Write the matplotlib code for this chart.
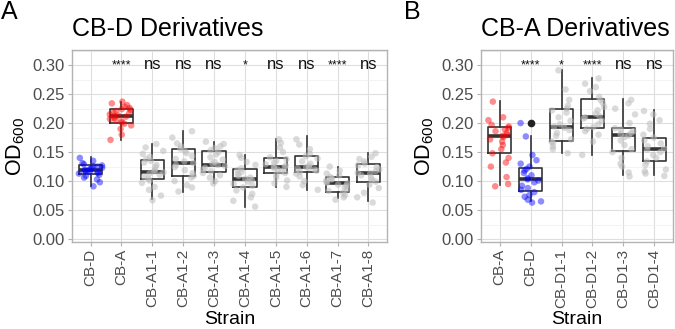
import numpy as np
import matplotlib.pyplot as plt

plt.rcParams['font.family'] = ['Liberation Sans', 'DejaVu Sans']
plt.rcParams['mathtext.default'] = 'regular'

# Panel A: CB-D derivatives
strains_a = ['CB-D', 'CB-A', 'CB-A1-1', 'CB-A1-2', 'CB-A1-3',
             'CB-A1-4', 'CB-A1-5', 'CB-A1-6', 'CB-A1-7', 'CB-A1-8']
od_a = [
    [0.091, 0.098, 0.103, 0.106, 0.109, 0.111, 0.113, 0.114, 0.115, 0.116, 0.117, 0.118,
     0.119, 0.120, 0.121, 0.122, 0.123, 0.125, 0.126, 0.127, 0.129, 0.131, 0.135, 0.140],
    [0.171, 0.180, 0.190, 0.196, 0.199, 0.201, 0.203, 0.205, 0.207, 0.209, 0.211, 0.212,
     0.213, 0.215, 0.217, 0.219, 0.221, 0.223, 0.224, 0.226, 0.228, 0.231, 0.234, 0.237],
    [0.067, 0.075, 0.085, 0.090, 0.097, 0.101, 0.104, 0.108, 0.111, 0.113, 0.115, 0.117,
     0.119, 0.124, 0.128, 0.132, 0.135, 0.138, 0.142, 0.147, 0.152, 0.158, 0.164],
    [0.082, 0.089, 0.093, 0.100, 0.106, 0.109, 0.114, 0.119, 0.124, 0.128, 0.131, 0.134,
     0.138, 0.143, 0.148, 0.152, 0.156, 0.160, 0.165, 0.175, 0.186],
    [0.096, 0.100, 0.106, 0.110, 0.114, 0.117, 0.120, 0.123, 0.126, 0.128, 0.130, 0.133,
     0.137, 0.141, 0.146, 0.150, 0.153, 0.157, 0.160, 0.164, 0.168],
    [0.056, 0.066, 0.072, 0.078, 0.084, 0.089, 0.092, 0.095, 0.099, 0.102, 0.104, 0.106,
     0.109, 0.112, 0.116, 0.119, 0.122, 0.128, 0.133, 0.140, 0.145],
    [0.090, 0.096, 0.101, 0.106, 0.111, 0.114, 0.117, 0.120, 0.122, 0.124, 0.125, 0.127,
     0.129, 0.132, 0.135, 0.138, 0.141, 0.150, 0.158, 0.166, 0.172],
    [0.085, 0.093, 0.100, 0.108, 0.113, 0.116, 0.118, 0.120, 0.122, 0.123, 0.124, 0.126,
     0.130, 0.134, 0.139, 0.143, 0.147, 0.155, 0.163, 0.172],
    [0.068, 0.072, 0.076, 0.080, 0.083, 0.086, 0.089, 0.092, 0.094, 0.096, 0.097, 0.099,
     0.101, 0.103, 0.105, 0.107, 0.110, 0.113, 0.118, 0.125],
    [0.063, 0.072, 0.080, 0.088, 0.094, 0.099, 0.102, 0.106, 0.110, 0.113, 0.114, 0.117,
     0.120, 0.124, 0.127, 0.130, 0.134, 0.138, 0.142, 0.148],
]
# box stats: lower whisker, q1, median, q3, upper whisker
lo_a = [0.092, 0.171, 0.069, 0.082, 0.096, 0.056, 0.090, 0.085, 0.070, 0.066]
q1_a = [0.112, 0.200, 0.103, 0.108, 0.116, 0.090, 0.114, 0.116, 0.082, 0.099]
med_a = [0.119, 0.212, 0.116, 0.131, 0.128, 0.104, 0.125, 0.124, 0.097, 0.114]
q3_a = [0.128, 0.225, 0.136, 0.155, 0.152, 0.120, 0.139, 0.143, 0.107, 0.130]
hi_a = [0.142, 0.237, 0.164, 0.186, 0.168, 0.145, 0.172, 0.177, 0.125, 0.148]
sig_a = ['', '****', 'ns', 'ns', 'ns', '*', 'ns', 'ns', '****', 'ns']

# Panel B: CB-A derivatives
strains_b = ['CB-A', 'CB-D', 'CB-D1-1', 'CB-D1-2', 'CB-D1-3', 'CB-D1-4']
od_b = [
    [0.091, 0.095, 0.107, 0.125, 0.132, 0.140, 0.148, 0.155, 0.162, 0.168, 0.172, 0.176,
     0.178, 0.180, 0.183, 0.186, 0.189, 0.192, 0.194, 0.197, 0.205, 0.210, 0.237],
    [0.063, 0.065, 0.068, 0.073, 0.076, 0.081, 0.085, 0.088, 0.092, 0.098, 0.101, 0.103,
     0.105, 0.110, 0.114, 0.118, 0.121, 0.125, 0.130, 0.136, 0.145, 0.177, 0.200],
    [0.148, 0.155, 0.160, 0.166, 0.168, 0.172, 0.178, 0.183, 0.188, 0.192, 0.194, 0.198,
     0.204, 0.210, 0.218, 0.222, 0.225, 0.230, 0.240, 0.258, 0.291],
    [0.145, 0.168, 0.180, 0.186, 0.190, 0.193, 0.198, 0.204, 0.208, 0.210, 0.212, 0.216,
     0.222, 0.228, 0.235, 0.240, 0.245, 0.255, 0.262, 0.268, 0.277],
    [0.108, 0.115, 0.125, 0.130, 0.140, 0.150, 0.155, 0.162, 0.170, 0.176, 0.179, 0.181,
     0.183, 0.186, 0.189, 0.191, 0.200, 0.215, 0.225, 0.234, 0.240],
    [0.109, 0.113, 0.117, 0.120, 0.128, 0.134, 0.140, 0.145, 0.150, 0.154, 0.156, 0.160,
     0.165, 0.170, 0.175, 0.180, 0.190, 0.199, 0.205, 0.215, 0.221],
]
lo_b = [0.093, 0.066, 0.148, 0.145, 0.110, 0.111]
q1_b = [0.148, 0.083, 0.169, 0.191, 0.152, 0.134]
med_b = [0.178, 0.103, 0.193, 0.211, 0.180, 0.155]
q3_b = [0.193, 0.123, 0.224, 0.241, 0.191, 0.174]
hi_b = [0.238, 0.178, 0.291, 0.277, 0.241, 0.222]
outliers_b = [[], [0.200], [], [], [], []]
sig_b = ['', '****', '*', '****', 'ns', 'ns']

W, H = 675, 329
fig = plt.figure(figsize=(W / 100, H / 100), dpi=100)
rng = np.random.default_rng(7)  # horizontal jitter only


def draw_panel(px, strains, values, colors, lo, q1, med, q3, hi, fliers, sig, title, letter):
    left, right, top, bottom = px
    ax = fig.add_axes([left / W, 1 - bottom / H, (right - left) / W, (bottom - top) / H])
    n = len(strains)
    stats = []
    for i in range(n):
        stats.append(dict(whislo=lo[i], q1=q1[i], med=med[i], q3=q3[i], whishi=hi[i],
                          fliers=fliers[i]))
    ax.bxp(stats, positions=range(n), widths=0.75, showcaps=False,
           boxprops=dict(color='#333333', lw=1.2),
           whiskerprops=dict(color='#333333', lw=1.2),
           medianprops=dict(color='#333333', lw=2.6, solid_capstyle='butt'),
           flierprops=dict(marker='o', markerfacecolor='#222222', markeredgecolor='none',
                           markersize=5.5), zorder=2)
    for i, vals in enumerate(values):
        xs = i + rng.uniform(-0.38, 0.38, len(vals))
        c = colors[i]
        a = 0.45 if c != '#BDBDBD' else 0.55
        ax.scatter(xs, vals, s=22, color=c, alpha=a, edgecolors='none', zorder=3)
    for i, s in enumerate(sig):
        if s.startswith('*'):
            ax.text(i, 0.2935, s, ha='center', va='baseline', fontsize=9, color='#111111')
        elif s:
            ax.text(i, 0.2935, s, ha='center', va='baseline', fontsize=12, color='#111111')

    ax.set_xlim(-0.6, n - 0.4)
    ax.set_ylim(-0.005, 0.326)
    ax.set_xticks(range(n))
    ax.set_xticklabels(strains, rotation=90, fontsize=11, color='#4D4D4D')
    ax.set_yticks(np.arange(0, 0.31, 0.05))
    ax.set_yticklabels(['%.2f' % v for v in np.arange(0, 0.31, 0.05)], fontsize=12,
                       color='#4D4D4D')
    ax.set_yticks(np.arange(0.025, 0.33, 0.05), minor=True)
    ax.grid(which='major', color='#DEDEDE', lw=0.8)
    ax.yaxis.grid(which='minor', color='#EFEFEF', lw=0.5)
    ax.set_axisbelow(True)
    ax.tick_params(which='major', color='#B3B3B3', length=3, width=0.8, pad=2)
    ax.tick_params(which='minor', length=0)
    for sp in ax.spines.values():
        sp.set_color('#B3B3B3')
        sp.set_linewidth(1.0)

    fig.text(left / W, 1 - 29 / H, title, fontsize=18, ha='left', va='center')
    fig.text((left - 56) / W, 1 - 146 / H, 'OD$_{600}$', fontsize=15.5, rotation=90,
             ha='center', va='center')
    fig.text((left + right) / 2 / W, 1 - 319 / H, 'Strain', fontsize=14,
             ha='center', va='center')
    fig.text(letter[1] / W, 1 - 12 / H, letter[0], fontsize=18, ha='left', va='center')
    return ax


colors_a = ['#0000FF', '#FF0000'] + ['#BDBDBD'] * 8
colors_b = ['#FF0000', '#0000FF'] + ['#BDBDBD'] * 4
draw_panel((72, 387, 50, 242), strains_a, od_a, colors_a, lo_a, q1_a, med_a, q3_a, hi_a,
           [[]] * 10, sig_a, 'CB-D Derivatives', ('A', 1))
draw_panel((481, 673, 50, 242), strains_b, od_b, colors_b, lo_b, q1_b, med_b, q3_b, hi_b,
           outliers_b, sig_b, 'CB-A Derivatives', ('B', 404))

fig.savefig('out.png', dpi=100)
